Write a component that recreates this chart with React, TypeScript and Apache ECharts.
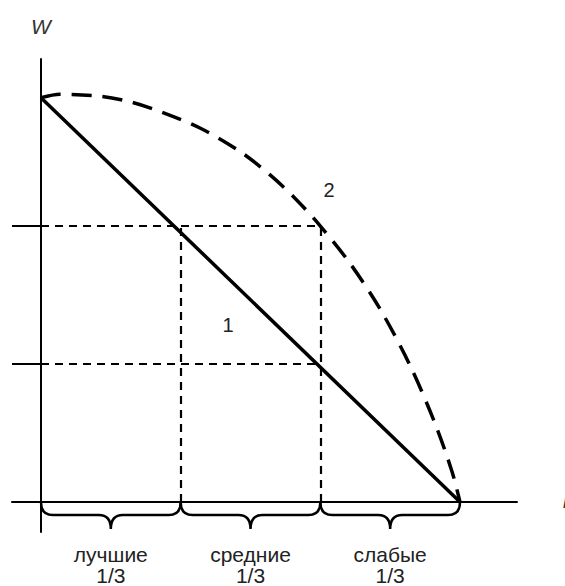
import React, { useEffect, useRef } from "react";
import * as echarts from "echarts";

// ---- data ----
const xRange = [-0.2076, 3.408];
const yRange = [-0.217, 3.21];
const solidLine = [
  [0, 2.93],
  [3, 0],
];
const curve = [
  [0, 2.93],
  [0.136, 2.955],
  [0.422, 2.94],
  [0.637, 2.9],
  [0.852, 2.83],
  [1.138, 2.71],
  [1.425, 2.54],
  [1.64, 2.37],
  [1.82, 2.2],
  [2.0, 2.0],
  [2.212, 1.73],
  [2.427, 1.4],
  [2.642, 0.99],
  [2.821, 0.57],
  [2.943, 0.22],
  [3, 0],
];
const guideLevels = [1, 2];
const groupBounds = [0, 1, 2, 3];
const groupNames = ["лучшие", "средние", "слабые"];
const groupShares = ["1/3", "1/3", "1/3"];
const markerLabels = ["1", "2"];
const markerX = [1.339, 2.062];
const markerY = [1.283, 2.261];
const yName = "W";
const xName = "n";

const FONT = '"Liberation Sans", Arial, Helvetica, sans-serif';

export default function App() {
  const ref = useRef<HTMLDivElement>(null);
  useEffect(() => {
    if (!ref.current) return;
    const chart = echarts.init(ref.current, null, { renderer: "svg" });
    const topLevel = guideLevels[guideLevels.length - 1];
    const innerBounds = groupBounds.slice(1, groupBounds.length - 1);
    const lastInner = innerBounds[innerBounds.length - 1];
    const dashed = [
      ...guideLevels.map((l) => ({ coords: [[0, l], [lastInner, l]] })),
      ...innerBounds.map((b) => ({ coords: [[b, 0], [b, topLevel]] })),
    ];
    const ticks = guideLevels.map((l) => ({ coords: [[xRange[0], l], [0, l]] }));
    const groups = groupNames.map((n, i) => [groupBounds[i], groupBounds[i + 1], i]);

    chart.setOption({
      animation: false,
      grid: { left: 12, right: 48, top: 59, bottom: 54, containLabel: false, outerBoundsMode: "none" },
      xAxis: {
        type: "value",
        min: xRange[0],
        max: xRange[1],
        name: xName,
        nameLocation: "end",
        nameGap: 46,
        nameTextStyle: { fontStyle: "italic", fontSize: 18, color: "#333", fontFamily: FONT },
        axisLine: { onZero: true, lineStyle: { color: "#000", width: 2 } },
        axisTick: { show: false },
        axisLabel: { show: false },
        splitLine: { show: false },
      },
      yAxis: {
        type: "value",
        min: yRange[0],
        max: yRange[1],
        name: yName,
        nameLocation: "end",
        nameGap: 22,
        nameTextStyle: { fontStyle: "italic", fontSize: 21, color: "#333", fontFamily: FONT },
        axisLine: { onZero: true, lineStyle: { color: "#000", width: 2 } },
        axisTick: { show: false },
        axisLabel: { show: false },
        splitLine: { show: false },
      },
      series: [
        {
          type: "lines",
          coordinateSystem: "cartesian2d",
          data: dashed,
          silent: true,
          lineStyle: { color: "#000", width: 2.2, type: [8, 6], opacity: 1 },
          z: 1,
        },
        {
          type: "lines",
          coordinateSystem: "cartesian2d",
          data: ticks,
          silent: true,
          lineStyle: { color: "#000", width: 2, type: "solid", opacity: 1 },
          z: 1,
        },
        {
          type: "line",
          data: solidLine,
          showSymbol: false,
          symbol: "none",
          lineStyle: { color: "#000", width: 3.5 },
          z: 3,
        },
        {
          type: "line",
          data: curve,
          showSymbol: false,
          symbol: "none",
          smooth: 0.3,
          lineStyle: { color: "#000", width: 3.5, type: [20, 11] },
          z: 3,
        },
        {
          type: "custom",
          data: groups,
          encode: { x: [0, 1] },
          silent: true,
          z: 4,
          renderItem: (params: any, api: any) => {
            const a = api.value(0);
            const b = api.value(1);
            const idx = api.value(2);
            const p0 = api.coord([a, 0]);
            const p1 = api.coord([b, 0]);
            const x0 = p0[0];
            const x1 = p1[0];
            const y0 = p0[1];
            const xm = (x0 + x1) / 2;
            const y1 = y0 + 13;
            const y2 = y0 + 27;
            const r = 12;
            const d =
              `M${x0} ${y0} Q${x0} ${y1} ${x0 + r} ${y1} L${xm - r} ${y1} Q${xm} ${y1} ${xm} ${y2} ` +
              `Q${xm} ${y1} ${xm + r} ${y1} L${x1 - r} ${y1} Q${x1} ${y1} ${x1} ${y0}`;
            return {
              type: "group",
              children: [
                {
                  type: "path",
                  shape: { pathData: d },
                  style: { fill: "none", stroke: "#000", lineWidth: 2.5 },
                },
                {
                  type: "text",
                  style: {
                    text: groupNames[idx],
                    x: xm,
                    y: y0 + 52,
                    fill: "#222",
                    fontSize: 21,
                    fontFamily: FONT,
                    align: "center",
                    verticalAlign: "middle",
                  },
                },
                {
                  type: "text",
                  style: {
                    text: groupShares[idx],
                    x: xm,
                    y: y0 + 73,
                    fill: "#222",
                    fontSize: 21,
                    fontFamily: FONT,
                    align: "center",
                    verticalAlign: "middle",
                  },
                },
              ],
            };
          },
        },
        {
          type: "custom",
          data: markerLabels.map((l, i) => [markerX[i], markerY[i], i]),
          encode: { x: 0, y: 1 },
          silent: true,
          z: 4,
          renderItem: (params: any, api: any) => {
            const p = api.coord([api.value(0), api.value(1)]);
            return {
              type: "text",
              style: {
                text: markerLabels[api.value(2)],
                x: p[0],
                y: p[1],
                fill: "#222",
                fontSize: 20,
                fontFamily: FONT,
                align: "center",
                verticalAlign: "middle",
              },
            };
          },
        },
      ],
    });
    return () => chart.dispose();
  }, []);
  return (
    <div
      ref={ref}
      style={{ position: "fixed", left: 0, top: 0, width: 565, height: 586, background: "#fff" }}
    />
  );
}
